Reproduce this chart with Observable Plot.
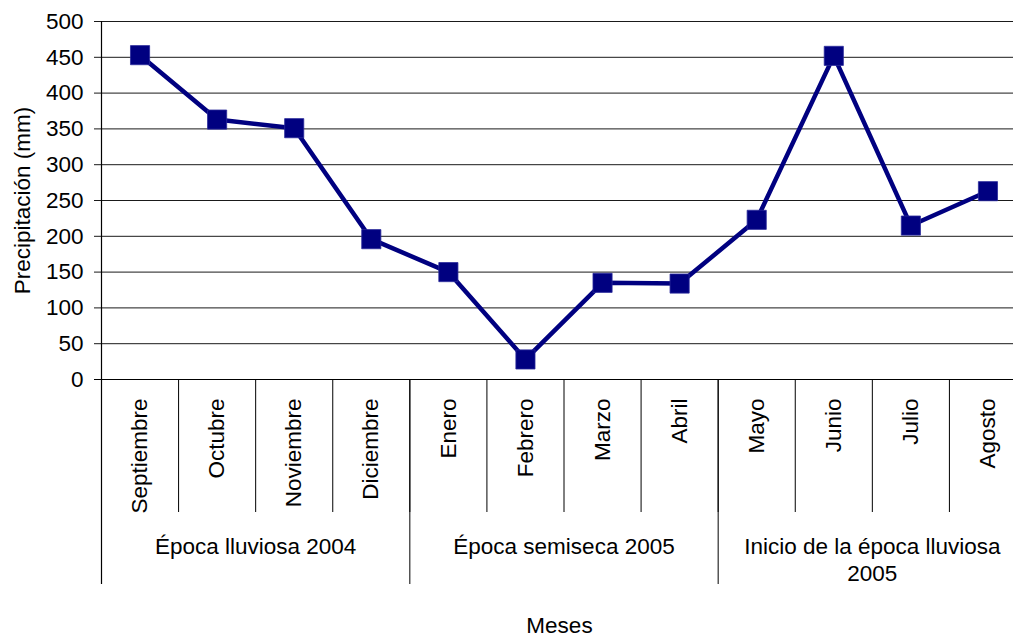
<!DOCTYPE html>
<html>
<head>
<meta charset="utf-8">
<script src="https://cdn.jsdelivr.net/npm/d3@7"></script>
<script src="https://cdn.jsdelivr.net/npm/@observablehq/plot@0.6"></script>
<style>
  html, body { margin: 0; padding: 0; background: #fff; overflow: hidden; }
</style>
</head>
<body>
<script>
const months = ["Septiembre", "Octubre", "Noviembre", "Diciembre", "Enero", "Febrero", "Marzo", "Abril", "Mayo", "Junio", "Julio", "Agosto"];
const precip = [453, 363, 351, 196, 150, 28, 135, 134, 223, 452, 215, 263];
const groups = ["Época lluviosa 2004", "Época semiseca 2005", "Inicio de la época lluviosa\n2005"];
const groupSizes = [4, 4, 4];
const yTicks = [0, 50, 100, 150, 200, 250, 300, 350, 400, 450, 500];
const yLabel = "Precipitación (mm)";
const xLabel = "Meses";

// derived structures
const idx = months.map((_, i) => i);
const series = months.map((m, i) => ({i, m, v: precip[i]}));
let acc = 0;
const groupRows = groups.map((g, k) => {
  const start = acc; acc += groupSizes[k];
  return {g, center: start + groupSizes[k] / 2 - 0.5, end: start + groupSizes[k] - 0.5};
});
const monthBounds = idx.slice(1).map(i => i - 0.5);
const groupBounds = groupRows.map(r => r.end);

const navy = "#000080";
const font = "'Liberation Sans', Arial, sans-serif";
const fs = 22.5;

const chart = Plot.plot({
  width: 1013,
  height: 638,
  marginLeft: 101,
  marginRight: 0,
  marginTop: 21,
  marginBottom: 259,
  style: {fontFamily: font, fontSize: fs + "px", color: "black", background: "white", overflow: "hidden"},
  x: {domain: [-0.5, months.length - 0.5], range: [101, 1026], axis: null},
  y: {domain: [0, 500], range: [379, 21], axis: null},
  marks: [
    // horizontal gridlines (extended left to form the tick marks)
    Plot.ruleY(yTicks.filter(d => d > 0), {stroke: "#1a1a1a", strokeWidth: 1, insetLeft: -7}),
    // baseline (x axis) with a small tick to the left
    Plot.ruleY([0], {stroke: "black", strokeWidth: 1.2, insetLeft: -7}),
    // y tick labels
    Plot.text(yTicks, {y: d => d, text: d => String(d), frameAnchor: "left", textAnchor: "end", lineAnchor: "middle", dx: -18, fontSize: fs, fill: "black"}),
    // left axis line extending down through the category table
    Plot.ruleX([-0.5], {y1: 500, y2: 0, insetBottom: -205, stroke: "black", strokeWidth: 1.2}),
    // month separators
    Plot.ruleX(monthBounds, {y1: 0, y2: 0, insetBottom: -133, stroke: "black", strokeWidth: 1}),
    // group separators
    Plot.ruleX(groupBounds, {y1: 0, y2: 0, insetBottom: -205, stroke: "black", strokeWidth: 1}),
    // month labels (rotated)
    Plot.text(series, {x: "i", y: 0, text: "m", rotate: -90, textAnchor: "end", lineAnchor: "middle", dy: 19, fontSize: fs, fill: "black"}),
    // group labels
    Plot.text(groupRows, {x: "center", y: 0, text: "g", textAnchor: "middle", lineAnchor: "top", lineHeight: 1.2, dy: 155, fontSize: fs, fill: "black"}),
    // axis titles
    Plot.text([yLabel], {frameAnchor: "left", textAnchor: "middle", lineAnchor: "middle", rotate: -90, dx: -79, fontSize: fs, fill: "black"}),
    Plot.text([xLabel], {frameAnchor: "bottom", textAnchor: "middle", lineAnchor: "middle", dx: 2, dy: 246, fontSize: fs, fill: "black"}),
    // data line and markers
    Plot.line(series, {x: "i", y: "v", stroke: navy, strokeWidth: 4.5, strokeLinejoin: "miter"}),
    Plot.dot(series, {x: "i", y: "v", symbol: "square", r: 10.8, fill: navy, stroke: "#2a2a9a", strokeWidth: 0.8})
  ]
});
document.body.append(chart);
</script>
</body>
</html>
